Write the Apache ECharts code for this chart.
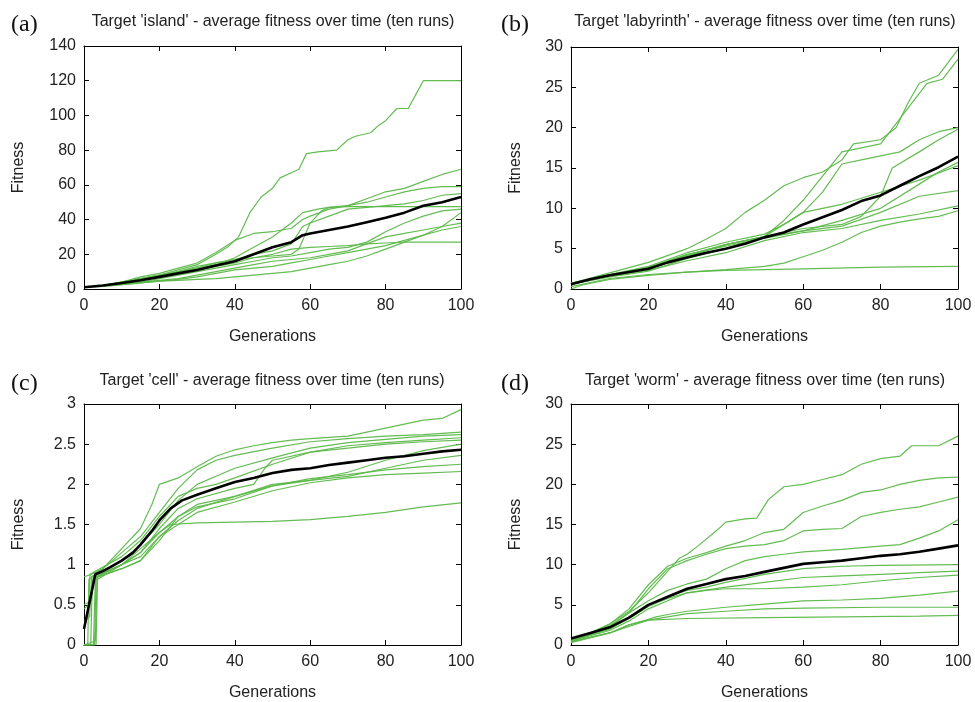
<!DOCTYPE html>
<html>
<head>
<meta charset="utf-8">
<script src="https://cdn.jsdelivr.net/npm/echarts@6/dist/echarts.min.js"></script>
<style>
html,body{margin:0;padding:0;background:#fff;}
#chart{width:975px;height:702px;}
</style>
</head>
<body>
<div id="chart"></div>
<script>
// ---------------- DATA ----------------
const panelLetters = ['(a)', '(b)', '(c)', '(d)'];
const panelTitles = [
  "Target 'island' - average fitness over time (ten runs)",
  "Target 'labyrinth' - average fitness over time (ten runs)",
  "Target 'cell' - average fitness over time (ten runs)",
  "Target 'worm' - average fitness over time (ten runs)"
];
const xTicks = [0, 20, 40, 60, 80, 100];
const yMaxes = [140, 30, 3, 30];
const yIntervals = [20, 5, 0.5, 5];

// (a) island: ten runs [generation, fitness]
const islandRuns = [
  [[0,1],[5,2],[10,4],[15,6],[20,8],[25,11],[30,14],[35,20],[38,24],[41,30],[44,44],[47,53],[50,58],[52,64],[55,67],[57,69],[59,78],[62,79],[67,80],[70,86],[72,88],[76,90],[78,94],[80,97],[83,104],[86,104],[88,112],[90,120],[95,120],[100,120]],
  [[0,1],[5,2],[10,4],[15,7],[20,9],[25,12],[30,15],[35,21],[40,28],[45,32],[50,33],[55,35],[58,40],[60,42],[65,46],[70,48],[75,52],[80,56],[85,58],[90,62],[95,66],[100,69]],
  [[0,1],[5,2],[10,3],[15,5],[20,7],[25,9],[30,12],[35,14],[40,18],[45,24],[50,30],[55,38],[58,44],[62,46],[65,47],[70,48],[75,50],[80,53],[85,56],[90,58],[95,59],[100,59]],
  [[0,1],[5,2],[10,3],[15,5],[20,7],[25,10],[30,12],[35,15],[40,17],[45,18],[50,19],[55,20],[57,23],[60,38],[63,45],[65,47],[70,47.5],[80,47.5],[90,47.5],[100,47.5]],
  [[0,1],[5,2],[10,4],[15,6],[20,8],[25,10],[30,13],[35,15],[40,17],[45,20],[50,22],[55,26],[58,36],[60,38],[65,42],[70,46],[75,47],[80,48],[85,49],[90,51],[95,54],[100,55]],
  [[0,1],[5,2],[10,3],[15,4],[20,6],[25,8],[30,10],[35,12],[40,14],[45,16],[50,18],[55,19],[60,21],[65,23],[70,24],[75,27],[80,33],[85,38],[90,42],[95,45],[100,46]],
  [[0,1],[5,1.5],[10,2.5],[15,3.5],[20,4.5],[25,5],[30,5.5],[35,6],[40,7],[45,8],[50,9],[55,10],[60,12],[65,14],[70,16],[75,19],[80,23],[85,27],[90,31],[95,36],[100,44]],
  [[0,1],[5,2],[10,3],[15,4],[20,5],[25,6],[30,8],[35,10],[40,12],[45,14],[50,16],[55,17],[60,18],[65,20],[70,22],[75,26],[80,30],[85,32],[90,34],[95,36],[100,38]],
  [[0,1],[5,1.5],[10,2.5],[15,3.5],[20,4.5],[25,5.5],[30,7],[35,9],[40,11],[45,12],[50,13],[55,15],[60,17],[65,19],[70,21],[75,23],[80,25],[85,28],[90,31],[95,34],[100,36]],
  [[0,1],[5,2],[10,3],[15,5],[20,7],[25,9],[30,11],[35,13],[40,15],[45,18],[50,20],[55,23],[60,24],[65,24.5],[70,25],[75,26],[80,26.5],[85,27],[90,27],[95,27],[100,27]]
];
const islandMean = [[0,1],[5,2],[10,3.5],[15,5],[20,7],[25,9],[30,11],[35,13.5],[40,16],[45,20],[50,24],[55,27],[58,31],[60,32],[65,34],[70,36],[75,38.5],[80,41],[85,44],[90,48],[95,50],[100,53]];

// (b) labyrinth
const labyrinthRuns = [
  [[0,0.7],[10,2],[20,3.3],[30,5],[35,6.2],[40,7.5],[45,9.5],[50,11],[55,12.8],[60,13.8],[65,14.5],[70,16],[73,18],[80,18.5],[84,20],[87,23],[90,25.5],[95,26.5],[100,29.7]],
  [[0,0.7],[10,1.8],[20,2.6],[30,4.2],[40,5.5],[50,6.5],[55,8.5],[60,11],[65,14],[70,17],[75,17.5],[80,18],[84,20.5],[88,23],[92,25.5],[96,26],[100,28.5]],
  [[0,0.7],[10,1.8],[20,2.8],[30,4.5],[40,5.8],[50,6.8],[55,8],[60,9.5],[65,12],[70,15.5],[75,16],[80,16.5],[85,17],[90,18.5],[95,19.5],[100,20]],
  [[0,0.7],[10,1.7],[20,2.5],[30,4],[40,5.5],[50,6.5],[60,7.5],[70,8],[75,9],[80,11.5],[83,15],[90,17],[95,18.5],[100,19.8]],
  [[0,0.6],[10,1.7],[20,2.7],[30,4.3],[40,5.3],[50,6.3],[60,7.2],[70,8.5],[80,10],[90,13],[95,14.5],[100,15.7]],
  [[0,0.6],[10,1.5],[20,2.2],[30,3.8],[40,5],[50,6.5],[60,9.5],[70,10.5],[80,12],[90,13.5],[100,15.3]],
  [[0,0.6],[10,1.6],[20,2.4],[30,4.2],[40,5.5],[50,6.5],[60,7.2],[70,7.8],[80,9.5],[90,11.5],[100,12.2]],
  [[0,0.6],[10,1.6],[20,2.3],[30,3.5],[40,4.5],[50,6],[60,7],[70,7.5],[80,8.5],[90,9.3],[100,10.3]],
  [[0,0.3],[10,1.3],[20,1.8],[30,2.1],[40,2.4],[50,2.8],[55,3.2],[60,4],[65,4.8],[70,5.8],[75,7],[80,7.8],[85,8.3],[90,8.7],[95,9],[100,9.7]],
  [[0,0],[3,0.5],[10,1.2],[20,1.7],[30,2.1],[40,2.3],[50,2.4],[60,2.5],[80,2.7],[100,2.8]]
];
const labyrinthMean = [[0,0.6],[5,1.2],[10,1.7],[15,2.1],[20,2.5],[25,3.3],[30,3.9],[35,4.5],[40,5],[45,5.6],[50,6.4],[55,7],[60,8],[65,8.9],[70,9.8],[75,10.9],[80,11.6],[85,12.8],[90,14],[95,15.1],[100,16.4]];

// (c) cell
const cellRuns = [
  [[0,0],[1,0],[1.3,0.82],[5,0.95],[10,1.2],[15,1.45],[18,1.75],[20,2.0],[25,2.08],[30,2.22],[35,2.35],[40,2.43],[45,2.48],[50,2.52],[55,2.55],[60,2.57],[70,2.6],[75,2.65],[80,2.7],[85,2.75],[90,2.8],[95,2.82],[100,2.93]],
  [[0,0.85],[2,0.88],[5,0.95],[10,1.15],[15,1.35],[20,1.65],[25,1.95],[30,2.18],[35,2.3],[40,2.36],[50,2.45],[60,2.53],[70,2.57],[80,2.6],[90,2.62],[100,2.65]],
  [[0,0.3],[1.5,0.35],[2,0.85],[10,1.05],[15,1.25],[20,1.5],[25,1.8],[30,2.0],[35,2.1],[40,2.2],[50,2.33],[60,2.45],[70,2.52],[80,2.56],[90,2.6],[100,2.62]],
  [[0,0],[2.5,0],[3,0.8],[10,1.0],[15,1.15],[20,1.45],[25,1.7],[30,1.82],[40,1.95],[45,2.0],[48,2.2],[50,2.3],[60,2.4],[70,2.45],[80,2.5],[90,2.53],[100,2.55]],
  [[0,0.5],[2,0.55],[2.5,0.85],[10,1.0],[15,1.2],[20,1.4],[25,1.6],[30,1.75],[40,1.85],[50,1.98],[60,2.05],[70,2.15],[80,2.3],[90,2.42],[100,2.5]],
  [[0,0],[3,0.05],[3.5,0.85],[10,1.0],[15,1.1],[20,1.35],[25,1.55],[30,1.7],[40,1.85],[50,2.0],[60,2.05],[70,2.1],[80,2.2],[90,2.3],[100,2.36]],
  [[0,0],[1.8,0],[2.2,0.82],[10,0.95],[15,1.05],[20,1.3],[25,1.6],[30,1.72],[40,1.82],[50,1.98],[60,2.07],[70,2.12],[80,2.18],[90,2.22],[100,2.25]],
  [[0,0],[3.2,0],[3.6,0.85],[10,0.95],[15,1.05],[20,1.35],[25,1.5],[30,1.65],[40,1.78],[50,1.92],[60,2.02],[70,2.08],[80,2.12],[90,2.14],[100,2.16]],
  [[0,0.45],[1.2,0.5],[1.6,0.88],[10,1.1],[15,1.3],[20,1.6],[25,1.85],[30,1.95],[35,2.0],[40,2.08],[50,2.25],[60,2.4],[70,2.48],[80,2.52],[90,2.55],[100,2.58]],
  [[0,0],[2.8,0],[3.2,0.85],[10,1.0],[15,1.15],[20,1.4],[23,1.5],[30,1.52],[40,1.53],[50,1.54],[60,1.56],[70,1.6],[80,1.65],[90,1.72],[100,1.77]]
];
const cellMean = [[0,0.2],[3,0.88],[5,0.92],[7,0.97],[10,1.05],[13,1.15],[15,1.25],[18,1.42],[20,1.55],[23,1.7],[26,1.8],[30,1.87],[35,1.95],[40,2.03],[45,2.08],[50,2.14],[55,2.18],[60,2.2],[65,2.24],[70,2.27],[75,2.3],[80,2.33],[85,2.35],[90,2.38],[95,2.41],[100,2.43]];

// (d) worm
const wormRuns = [
  [[0,0.6],[5,1.5],[10,2.6],[15,4.2],[20,6.5],[25,9.2],[28,10.8],[30,11.3],[33,12.4],[38,14.4],[40,15.3],[45,15.7],[48,15.8],[51,18.1],[55,19.7],[60,20],[65,20.6],[70,21.2],[75,22.5],[80,23.2],[85,23.5],[88,24.8],[95,24.8],[100,26]],
  [[0,0.5],[5,1.5],[10,2.6],[15,4.5],[20,7.5],[25,9.8],[30,10.8],[35,11.5],[40,12.3],[45,13],[50,14],[55,14.4],[60,16.5],[65,17.3],[70,18],[75,19],[80,19.3],[85,20],[90,20.5],[95,20.8],[100,20.9]],
  [[0,0.5],[5,1.4],[10,2.4],[15,4],[20,7],[25,9.5],[30,10.5],[35,11.3],[40,12],[45,12.3],[50,12.5],[55,13],[60,14.2],[65,14.4],[70,14.5],[75,16],[80,16.5],[85,16.9],[90,17.2],[95,17.8],[100,18.4]],
  [[0,0.5],[5,1.3],[10,2.2],[15,4],[20,5.5],[25,6.8],[30,7.6],[35,8.2],[40,9.5],[45,10.5],[50,11],[55,11.3],[60,11.6],[70,11.9],[80,12.3],[85,12.5],[90,13.3],[95,14.2],[100,15.6]],
  [[0,0.5],[10,2],[15,3.5],[20,5],[25,6],[30,6.8],[35,7.2],[40,7.8],[45,8.3],[50,8.8],[60,9.5],[70,9.8],[80,9.9],[100,10]],
  [[0,0.5],[10,2],[15,3.3],[20,4.8],[25,5.8],[30,6.5],[40,7.2],[50,7.8],[60,8.4],[70,8.6],[80,8.8],[90,9],[100,9.2]],
  [[0,0.5],[10,1.8],[15,3],[20,4.5],[25,5.5],[30,6.5],[35,6.8],[40,7],[50,7],[60,7.2],[70,7.5],[80,8],[90,8.4],[100,8.7]],
  [[0,0.4],[10,1.5],[15,2.5],[20,3.2],[22,3.5],[25,3.8],[30,4.2],[40,4.7],[50,5.1],[60,5.5],[70,5.6],[80,5.8],[90,6.2],[100,6.7]],
  [[0,0.4],[10,1.5],[15,2.3],[20,3.1],[25,3.5],[30,3.9],[40,4.2],[50,4.5],[60,4.6],[80,4.7],[100,4.7]],
  [[0,0.3],[10,1.5],[15,2.5],[20,3.1],[30,3.3],[50,3.4],[70,3.5],[90,3.6],[100,3.7]]
];
const wormMean = [[0,0.8],[5,1.5],[10,2.2],[15,3.4],[20,5],[25,6],[30,7],[35,7.6],[40,8.2],[45,8.6],[50,9.1],[55,9.6],[60,10.1],[65,10.3],[70,10.5],[75,10.8],[80,11.1],[85,11.3],[90,11.6],[95,12],[100,12.4]];

const allRuns = [islandRuns, labyrinthRuns, cellRuns, wormRuns];
const allMeans = [islandMean, labyrinthMean, cellMean, wormMean];

// ---------------- LAYOUT ----------------
const grids = [
  {left: 84, top: 46, width: 377, height: 243},
  {left: 571, top: 47, width: 387, height: 242},
  {left: 84, top: 404, width: 377, height: 244},
  {left: 571, top: 404, width: 387, height: 244}
];
const titlePos = [[273, 22], [765, 22], [272, 381], [765, 381]];
const letterPos = [[11, 25], [501, 25], [11, 384], [501, 384]];
const yNameGap = [57, 47, 57, 47];

const FONT = 'Liberation Sans, Arial, sans-serif';
const TXT = '#222';
const GREEN = '#5cb84a';

const xAxes = [], yAxes = [], series = [], graphics = [];
grids.forEach((g, p) => {
  const tickCommon = {show: true, inside: true, length: 5, lineStyle: {color: '#000', width: 1}};
  xAxes.push({
    type: 'value', gridIndex: p, min: 0, max: 100, interval: 20, position: 'bottom',
    axisLine: {show: true, onZero: false, lineStyle: {color: '#000', width: 1}},
    axisTick: tickCommon,
    axisLabel: {show: true, color: TXT, fontSize: 16, fontFamily: FONT, margin: 9},
    splitLine: {show: false},
    name: 'Generations', nameLocation: 'middle', nameGap: 40,
    nameTextStyle: {color: TXT, fontSize: 16, fontFamily: FONT}
  });
  xAxes.push({
    type: 'value', gridIndex: p, min: 0, max: 100, interval: 20, position: 'top',
    axisLine: {show: true, onZero: false, lineStyle: {color: '#000', width: 1}},
    axisTick: tickCommon, axisLabel: {show: false}, splitLine: {show: false}
  });
  yAxes.push({
    type: 'value', gridIndex: p, min: 0, max: yMaxes[p], interval: yIntervals[p], position: 'left',
    axisLine: {show: true, onZero: false, lineStyle: {color: '#000', width: 1}},
    axisTick: tickCommon,
    axisLabel: {show: true, color: TXT, fontSize: 16, fontFamily: FONT, margin: 8},
    splitLine: {show: false},
    name: 'Fitness', nameLocation: 'middle', nameGap: yNameGap[p], nameRotate: 90,
    nameTextStyle: {color: TXT, fontSize: 16, fontFamily: FONT}
  });
  yAxes.push({
    type: 'value', gridIndex: p, min: 0, max: yMaxes[p], interval: yIntervals[p], position: 'right',
    axisLine: {show: true, onZero: false, lineStyle: {color: '#000', width: 1}},
    axisTick: tickCommon, axisLabel: {show: false}, splitLine: {show: false}
  });
  allRuns[p].forEach((run) => {
    series.push({
      type: 'line', xAxisIndex: p * 2, yAxisIndex: p * 2, data: run,
      showSymbol: false, symbol: 'none', smooth: false, silent: true,
      lineStyle: {color: GREEN, width: 1.2, opacity: 0.95}, z: 2
    });
  });
  series.push({
    type: 'line', xAxisIndex: p * 2, yAxisIndex: p * 2, data: allMeans[p],
    showSymbol: false, symbol: 'none', smooth: false, silent: true,
    lineStyle: {color: '#000', width: 2.6}, z: 3
  });
  graphics.push({
    type: 'text', x: titlePos[p][0], y: titlePos[p][1],
    style: {text: panelTitles[p], fill: TXT, font: '16px ' + FONT, align: 'center', verticalAlign: 'middle'}
  });
  graphics.push({
    type: 'text', x: letterPos[p][0], y: letterPos[p][1],
    style: {text: panelLetters[p], fill: '#111', font: '24px Liberation Serif, Times New Roman, serif', align: 'left', verticalAlign: 'middle'}
  });
});

const chart = echarts.init(document.getElementById('chart'), null, {renderer: 'canvas'});
chart.setOption({
  animation: false,
  backgroundColor: '#fff',
  grid: grids.map(g => Object.assign({containLabel: false}, g)),
  xAxis: xAxes,
  yAxis: yAxes,
  series: series,
  graphic: graphics
});
</script>
</body>
</html>
